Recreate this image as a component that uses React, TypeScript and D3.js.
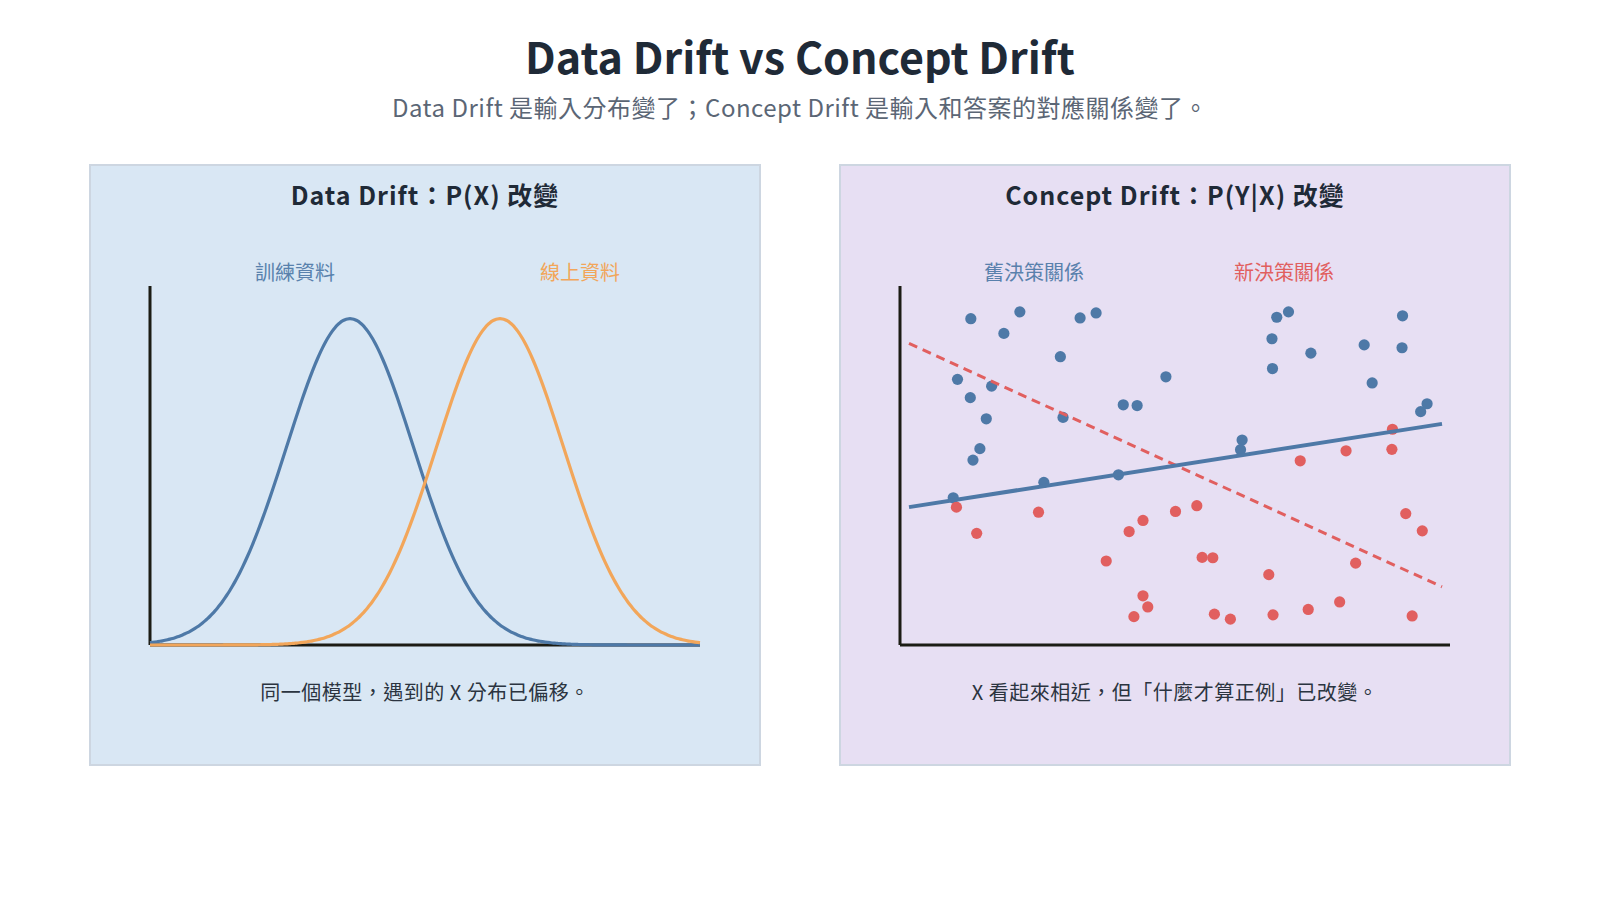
import React from "react";
import * as d3 from "d3";

const TITLE = "Data Drift vs Concept Drift";
const SUBTITLE = "Data Drift 是輸入分布變了；Concept Drift 是輸入和答案的對應關係變了。";
const LEFT_TITLE = "Data Drift：P(X) 改變";
const RIGHT_TITLE = "Concept Drift：P(Y|X) 改變";
const LEFT_LABELS = ["訓練資料", "線上資料"];
const RIGHT_LABELS = ["舊決策關係", "新決策關係"];
const LEFT_CAPTION = "同一個模型，遇到的 X 分布已偏移。";
const RIGHT_CAPTION = "X 看起來相近，但「什麼才算正例」已改變。";

// distributions: [mean, sd]
const TRAIN_DIST = [0, 1.27];
const ONLINE_DIST = [3, 1.27];
const DIST_DOMAIN = [-4, 7];

// scatter: blue points [x, y]
const bluePoints: [number, number][] = [
  [1.16, 9.09], [2.08, 9.28], [1.78, 8.68], [3.21, 9.11], [3.51, 9.25], [2.84, 8.03],
  [0.91, 7.4], [1.55, 7.21], [1.15, 6.89], [1.45, 6.3], [2.89, 6.34], [4.02, 6.69],
  [4.28, 6.67], [4.82, 7.47], [1.33, 5.47], [1.2, 5.15], [2.53, 4.53], [3.93, 4.74],
  [0.83, 4.1], [6.9, 9.13], [7.12, 9.28], [6.81, 8.53], [6.82, 7.7], [7.54, 8.13],
  [8.54, 8.36], [9.26, 9.17], [9.25, 8.28], [8.69, 7.3], [9.72, 6.72], [9.6, 6.5],
  [6.25, 5.71], [6.22, 5.44],
];
// red points
const redPoints: [number, number][] = [
  [9.07, 6.01], [8.2, 5.41], [9.06, 5.45], [7.34, 5.13], [0.89, 3.84], [1.27, 3.11],
  [2.43, 3.7], [4.39, 3.47], [4.13, 3.16], [3.7, 2.34], [4.39, 1.37], [4.48, 1.06],
  [4.22, 0.79], [5.0, 3.72], [5.4, 3.88], [5.5, 2.44], [5.7, 2.43], [6.75, 1.96],
  [5.73, 0.86], [6.03, 0.72], [6.83, 0.84], [7.49, 0.99], [8.08, 1.2], [8.38, 2.28],
  [9.32, 3.66], [9.63, 3.18], [9.44, 0.81],
];
const oldBoundary: [number, number][] = [[0, 3.84], [10, 6.16]];
const newBoundary: [number, number][] = [[0, 8.4], [10, 1.62]];

const BLUE = "#4e79a7";
const ORANGE = "#f2a65a";
const RED = "#e15f5f";
const AXIS = "#1c1c14";
const FONT = "'Noto Sans CJK TC', 'Noto Sans', sans-serif";

const PANEL_W = 670;
const PANEL_H = 600;
const PLOT = { x0: 60, x1: 610, y0: 121, y1: 480 };

function gauss(x: number, m: number, s: number) {
  return Math.exp(-((x - m) ** 2) / (2 * s * s));
}

function LeftPanel() {
  const x = d3.scaleLinear().domain(DIST_DOMAIN).range([PLOT.x0, PLOT.x1]);
  const y = d3.scaleLinear().domain([0, 1.1]).range([PLOT.y1, PLOT.y0]);
  const xs = d3.range(DIST_DOMAIN[0], DIST_DOMAIN[1] + 0.0001, 0.05);
  const line = d3
    .line<number>()
    .x((d) => x(d))
    .curve(d3.curveBasis);
  const trainPath = line.y((d) => y(gauss(d, TRAIN_DIST[0], TRAIN_DIST[1])))(xs) || "";
  const onlinePath = line.y((d) => y(gauss(d, ONLINE_DIST[0], ONLINE_DIST[1])))(xs) || "";
  return (
    <g transform="translate(90,165)">
      <rect x={0} y={0} width={PANEL_W} height={PANEL_H} fill="#d9e7f4" stroke="#cdd6e1" strokeWidth={2} />
      <text x={PANEL_W / 2} y={40} textAnchor="middle" fontSize={25} fontWeight={700} fill="#1f2a37" letterSpacing={1}>
        {LEFT_TITLE}
      </text>
      <text x={205} y={115} textAnchor="middle" fontSize={20} fill={BLUE} opacity={0.92}>
        {LEFT_LABELS[0]}
      </text>
      <text x={490} y={115} textAnchor="middle" fontSize={20} fill={ORANGE}>
        {LEFT_LABELS[1]}
      </text>
      <line x1={PLOT.x0} x2={PLOT.x0} y1={PLOT.y0} y2={PLOT.y1} stroke={AXIS} strokeWidth={3} />
      <line x1={PLOT.x0} x2={PLOT.x1} y1={PLOT.y1} y2={PLOT.y1} stroke={AXIS} strokeWidth={3} />
      <path d={trainPath} fill="none" stroke={BLUE} strokeWidth={3.2} />
      <path d={onlinePath} fill="none" stroke={ORANGE} strokeWidth={3.2} />
      <text x={PANEL_W / 2} y={535} textAnchor="middle" fontSize={20} fill="#2b3440" letterSpacing={0.5}>
        {LEFT_CAPTION}
      </text>
    </g>
  );
}

function RightPanel() {
  const x = d3.scaleLinear().domain([0, 10]).range([69, 602]);
  const y = d3.scaleLinear().domain([0, 10]).range([PLOT.y1, PLOT.y1 - 359]);
  const ln = d3
    .line<[number, number]>()
    .x((d) => x(d[0]))
    .y((d) => y(d[1]));
  return (
    <g transform="translate(840,165)">
      <rect x={0} y={0} width={PANEL_W} height={PANEL_H} fill="#e7dff3" stroke="#cdd6e1" strokeWidth={2} />
      <text x={PANEL_W / 2} y={40} textAnchor="middle" fontSize={25} fontWeight={700} fill="#1f2a37" letterSpacing={1}>
        {RIGHT_TITLE}
      </text>
      <text x={194} y={115} textAnchor="middle" fontSize={20} fill={BLUE} opacity={0.92}>
        {RIGHT_LABELS[0]}
      </text>
      <text x={444} y={115} textAnchor="middle" fontSize={20} fill={RED}>
        {RIGHT_LABELS[1]}
      </text>
      <line x1={PLOT.x0} x2={PLOT.x0} y1={PLOT.y0} y2={PLOT.y1} stroke={AXIS} strokeWidth={3} />
      <line x1={PLOT.x0} x2={PLOT.x1} y1={PLOT.y1} y2={PLOT.y1} stroke={AXIS} strokeWidth={3} />
      {bluePoints.map((d, i) => (
        <circle key={"b" + i} cx={x(d[0])} cy={y(d[1])} r={5.6} fill={BLUE} />
      ))}
      {redPoints.map((d, i) => (
        <circle key={"r" + i} cx={x(d[0])} cy={y(d[1])} r={5.6} fill={RED} />
      ))}
      <path d={ln(newBoundary) || ""} fill="none" stroke={RED} strokeWidth={3} strokeDasharray="9,6" />
      <path d={ln(oldBoundary) || ""} fill="none" stroke={BLUE} strokeWidth={4} />
      <text x={PANEL_W / 2} y={535} textAnchor="middle" fontSize={20} fill="#2b3440" letterSpacing={0.5}>
        {RIGHT_CAPTION}
      </text>
    </g>
  );
}

export default function App() {
  return (
    <svg width={1600} height={900} style={{ display: "block", position: "absolute", left: 0, top: 0, fontFamily: FONT }}>
      <rect x={0} y={0} width={1600} height={900} fill="#ffffff" />
      <text x={800} y={74} textAnchor="middle" fontSize={43} fontWeight={700} fill="#1f2a37">
        {TITLE}
      </text>
      <text x={800} y={117} textAnchor="middle" fontSize={24} fill="#5b6675" letterSpacing={0.5}>
        {SUBTITLE}
      </text>
      <LeftPanel />
      <RightPanel />
    </svg>
  );
}
